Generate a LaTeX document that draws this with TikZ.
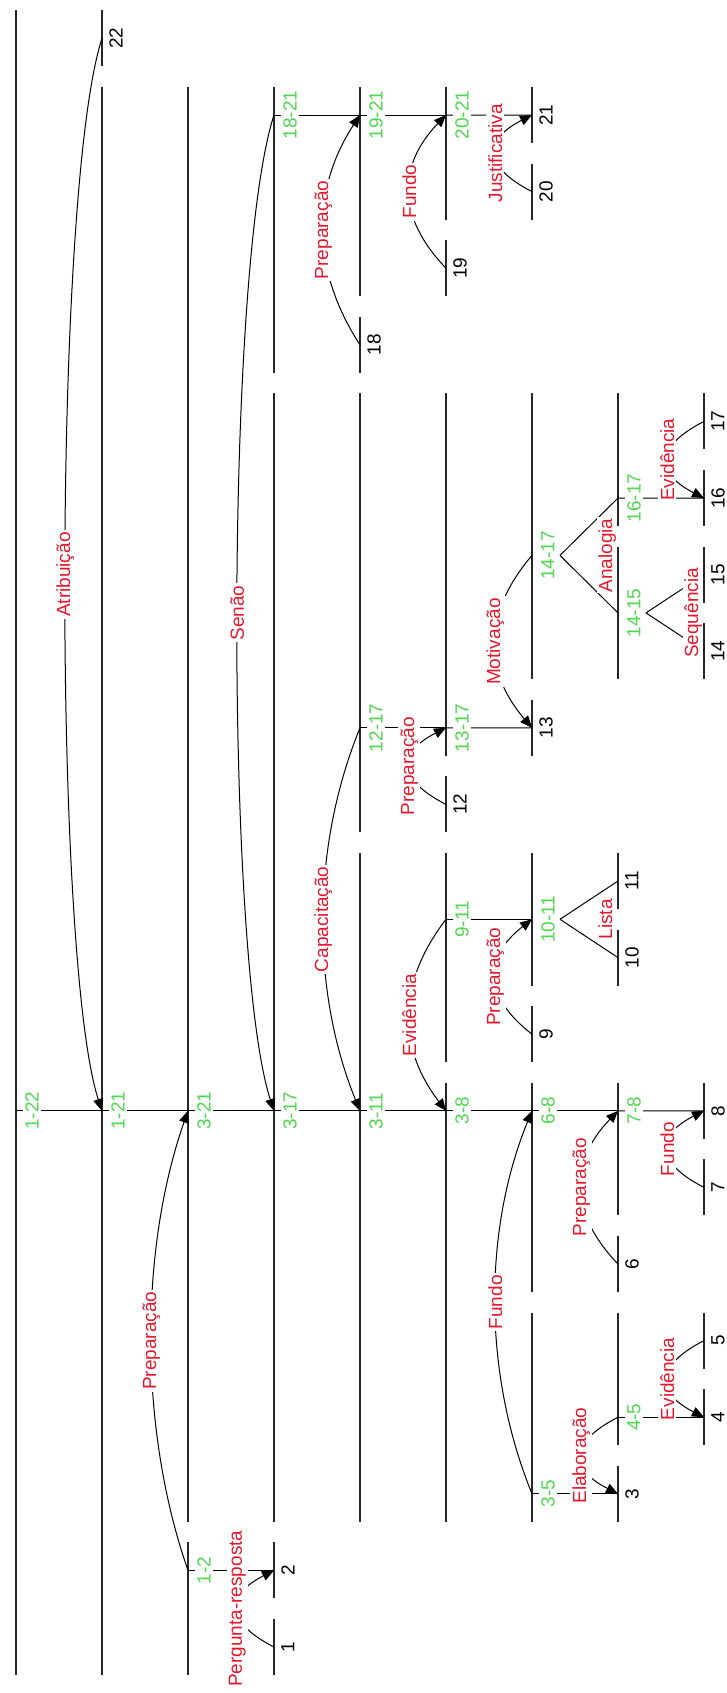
\documentclass[tikz,border=0pt]{standalone}
\usepackage{fontspec}
\setmainfont{Liberation Sans}
\usetikzlibrary{arrows.meta,calc,positioning}
\definecolor{relred}{RGB}{225,25,45}
\definecolor{spngreen}{RGB}{80,215,80}
\newcommand{\lblfont}{\fontsize{9.5}{11}\selectfont}
\tikzset{
  spanln/.style={line width=.8pt,black!85},
  link/.style={line width=.5pt},
  arc/.style={-{Triangle[length=6pt,width=5pt]},line width=.5pt},
  rel/.style={rotate=90,fill=white,text=relred,inner sep=1pt,font=\lblfont},
  mrel/.style={rotate=90,anchor=base,text=relred,fill=white,inner sep=.5pt,font=\lblfont},
  rng/.style={rotate=90,anchor=north,fill=white,text=spngreen,inner sep=1pt,font=\lblfont},
  num/.style={rotate=90,anchor=north,inner sep=1pt,font=\lblfont},
}

\begin{document}
\begin{tikzpicture}[x=.5pt,y=-.5pt]
  \useasboundingbox (0,0) rectangle (727,1693);

  % span lines: first/last segment/level
  \foreach \a/\b/\l in {1/22/0,1/21/1,22/22/1,1/2/2,3/21/2,1/1/3,2/2/3,3/17/3,18/21/3,
      3/11/4,12/17/4,18/18/4,19/21/4,3/8/5,9/11/5,12/12/5,13/17/5,19/19/5,20/21/5,
      3/5/6,6/8/6,9/9/6,10/11/6,13/13/6,14/17/6,20/20/6,21/21/6,
      3/3/7,4/5/7,6/6/7,7/8/7,10/10/7,11/11/7,14/15/7,16/17/7,
      4/4/8,5/5/8,7/7/8,8/8/8,14/14/8,15/15/8,16/16/8,17/17/8}
    \draw[spanln] ({16+86*\l},{1647-76.6*(\b-1)-28}) -- ({16+86*\l},{1647-76.6*(\a-1)+28});

  % leaves
  \foreach \i/\l in {1/3,2/3,3/7,4/8,5/8,6/7,7/8,8/8,9/6,10/7,11/7,12/5,13/6,
      14/8,15/8,16/8,17/8,18/4,19/5,20/6,21/6,22/1}{
    \coordinate (s\i) at ({16+86*\l},{1647-76.6*(\i-1)});
    \node[num] (n\i) at ($(s\i)+(5,0)$) {\i};
  }

  % spans: first/last/level/position
  \foreach \a/\b/\l/\p in {1/22/0/1110.8,1/21/1/1110.8,1/2/2/1570.4,3/21/2/1110.8,
      3/17/3/1110.8,18/21/3/115,3/11/4/1110.8,12/17/4/727.8,19/21/4/115,
      3/8/5/1110.8,9/11/5/919.3,13/17/5/727.8,20/21/5/115,
      3/5/6/1493.8,6/8/6/1110.8,10/11/6/919.3,14/17/6/555.4,
      4/5/7/1417.2,7/8/7/1110.8,14/15/7/612.9,16/17/7/498}
    \coordinate (s\a-\b) at ({16+86*\l},\p);

  % links from span to nucleus
  \foreach \a/\b/\n in {1/22/1-21,1/21/3-21,1/2/2,3/21/3-17,3/17/3-11,18/21/19-21,
      3/11/3-8,12/17/13-17,19/21/20-21,3/8/6-8,9/11/10-11,13/17/13,20/21/21,
      3/5/3,6/8/7-8,4/5/4,7/8/8,16/17/16}
    \draw[link] (s\a-\b) -- (s\n);

  % multinuclear
  \foreach \a/\b/\n in {10/11/10,10/11/11,14/17/14-15,14/17/16-17,14/15/14,14/15/15}
    \draw[link] ($(s\a-\b)+(28,0)$) -- (s\n);
  \node[mrel] (rLista) at ($(s10-11)+(80,0)$) {Lista};
  \node[mrel] (rAnal) at ($(s14-17)+(80,0)$) {Analogia};
  \node[mrel] (rSeq) at ($(s14-15)+(80,0)$) {Sequência};

  % relations satellite -> nucleus
  \draw[arc] (s22) .. controls +(-49,150) and +(-49,-150) .. (s1-21) node[rel,pos=.5] (rAtr) {Atribuição};
  \draw[arc] (s1-2) .. controls +(-49,-140) and +(-49,140) .. (s3-21) node[rel,pos=.5] (rPrepA) {Preparação};
  \draw[arc] (s1) .. controls +(-49,-25) and +(-49,25) .. (s2) node[rel,pos=.5] (rPerg) {Pergunta-resposta};
  \draw[arc] (s18-21) .. controls +(-49,150) and +(-49,-150) .. (s3-17) node[rel,pos=.5] (rSenao) {Senão};
  \draw[arc] (s12-17) .. controls +(-49,120) and +(-49,-120) .. (s3-11) node[rel,pos=.5] (rCap) {Capacitação};
  \draw[arc] (s18) .. controls +(-49,-75) and +(-49,75) .. (s19-21) node[rel,pos=.5] (rPrepB) {Preparação};
  \draw[arc] (s9-11) .. controls +(-49,64) and +(-49,-64) .. (s3-8) node[rel,pos=.5] (rEvA) {Evidência};
  \draw[arc] (s12) .. controls +(-49,-25) and +(-49,25) .. (s13-17) node[rel,pos=.5] (rPrepC) {Preparação};
  \draw[arc] (s19) .. controls +(-49,-51) and +(-49,51) .. (s20-21) node[rel,pos=.5] (rFunA) {Fundo};
  \draw[arc] (s3-5) .. controls +(-49,-120) and +(-49,120) .. (s6-8) node[rel,pos=.5] (rFunB) {Fundo};
  \draw[arc] (s9) .. controls +(-49,-38) and +(-49,38) .. (s10-11) node[rel,pos=.5] (rPrepD) {Preparação};
  \draw[arc] (s14-17) .. controls +(-49,57) and +(-49,-57) .. (s13) node[rel,pos=.5] (rMot) {Motivação};
  \draw[arc] (s20) .. controls +(-49,-25) and +(-49,25) .. (s21) node[rel,pos=.5] (rJus) {Justificativa};
  \draw[arc] (s4-5) .. controls +(-49,25) and +(-49,-25) .. (s3) node[rel,pos=.5] (rElab) {Elaboração};
  \draw[arc] (s6) .. controls +(-49,-51) and +(-49,51) .. (s7-8) node[rel,pos=.5] (rPrepE) {Preparação};
  \draw[arc] (s17) .. controls +(-49,25) and +(-49,-25) .. (s16) node[rel,pos=.5] (rEvB) {Evidência};
  \draw[arc] (s5) .. controls +(-49,25) and +(-49,-25) .. (s4) node[rel,pos=.5] (rEvC) {Evidência};
  \draw[arc] (s7) .. controls +(-49,-25) and +(-49,25) .. (s8) node[rel,pos=.5] (rFunC) {Fundo};

  % span labels
  \foreach \a/\b in {1/22,1/21,1/2,3/21,3/17,18/21,3/11,12/17,19/21,3/8,9/11,13/17,20/21,
      3/5,6/8,10/11,14/17,4/5,7/8,14/15,16/17}
    \node[rng] (g\a-\b) at ($(s\a-\b)+(7,0)$) {\a-\b};
\end{tikzpicture}
\end{document}
